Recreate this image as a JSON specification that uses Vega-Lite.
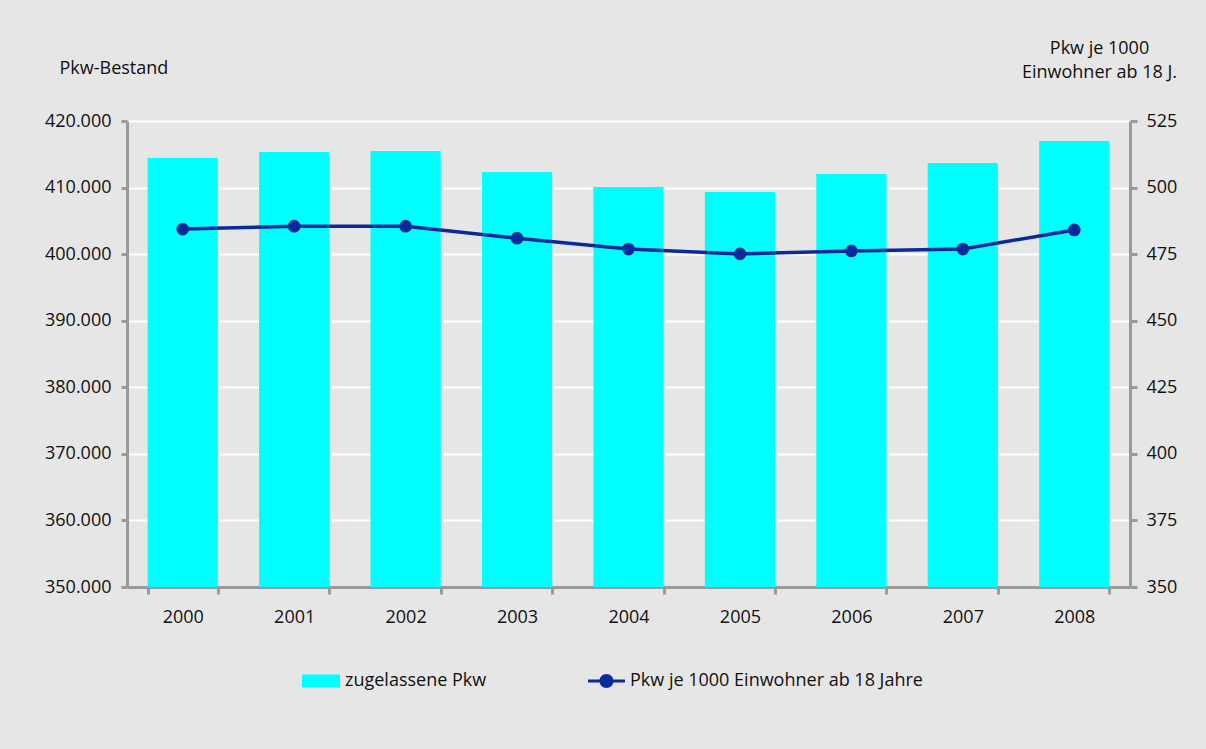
{
  "$schema": "https://vega.github.io/schema/vega-lite/v6.json",
  "width": 1003,
  "height": 466,
  "autosize": {"type": "none"},
  "padding": {"left": 127, "top": 121, "right": 76, "bottom": 162},
  "background": "#e6e6e6",
  "config": {
    "font": "Open Sans",
    "view": {"stroke": null},
    "axis": {
      "labelFont": "Open Sans",
      "titleFont": "Open Sans",
      "labelFontSize": 18,
      "titleFontSize": 18,
      "labelColor": "#111111",
      "titleColor": "#111111",
      "titleFontWeight": "normal",
      "domainColor": "#9a9a9a",
      "domainWidth": 3,
      "tickColor": "#9a9a9a",
      "tickWidth": 3
    },
    "legend": {
      "labelFont": "Open Sans",
      "labelFontSize": 18,
      "labelColor": "#111111",
      "labelLimit": 0,
      "padding": 0
    }
  },
  "data": {
    "values": [
      {"jahr": "2000", "pkw": 414440, "je1000": 484.4},
      {"jahr": "2001", "pkw": 415340, "je1000": 485.5},
      {"jahr": "2002", "pkw": 415490, "je1000": 485.5},
      {"jahr": "2003", "pkw": 412340, "je1000": 481.0},
      {"jahr": "2004", "pkw": 410090, "je1000": 476.9},
      {"jahr": "2005", "pkw": 409330, "je1000": 475.1},
      {"jahr": "2006", "pkw": 412040, "je1000": 476.2},
      {"jahr": "2007", "pkw": 413690, "je1000": 476.9},
      {"jahr": "2008", "pkw": 417000, "je1000": 484.1}
    ]
  },
  "encoding": {
    "x": {
      "field": "jahr",
      "type": "ordinal",
      "scale": {"paddingInner": 0.37, "paddingOuter": 0.185},
      "axis": {
        "title": null,
        "labelAngle": 0,
        "tickBand": "extent",
        "tickSize": 7,
        "labelPadding": 14,
        "grid": false
      }
    }
  },
  "layer": [
    {
      "mark": {"type": "bar", "color": "#00ffff", "clip": true},
      "encoding": {
        "y": {
          "field": "pkw",
          "type": "quantitative",
          "scale": {"domain": [350000, 420000], "zero": false, "nice": false},
          "axis": {
            "values": [350000, 360000, 370000, 380000, 390000, 400000, 410000, 420000],
            "labelExpr": "replace(format(datum.value, ','), ',', '.')",
            "grid": true,
            "gridColor": "#ffffff",
            "gridWidth": 2,
            "tickSize": 6,
            "labelPadding": 10,
            "title": "Pkw-Bestand",
            "titleAngle": 0,
            "titleAlign": "left",
            "titleBaseline": "alphabetic",
            "titleX": -68,
            "titleY": -48
          }
        },
        "fill": {
          "datum": "zugelassene Pkw",
          "scale": {"range": ["#00ffff"]},
          "legend": {
            "title": null,
            "orient": "none",
            "legendX": 175,
            "legendY": 541,
            "symbolType": "M-1,-0.342H1V0.342H-1Z",
            "symbolSize": 1444,
            "symbolStrokeWidth": 0,
            "labelOffset": 5
          }
        }
      }
    },
    {
      "encoding": {
        "y": {
          "field": "je1000",
          "type": "quantitative",
          "scale": {"domain": [350, 525], "zero": false, "nice": false},
          "axis": {
            "orient": "right",
            "values": [350, 375, 400, 425, 450, 475, 500, 525],
            "grid": false,
            "tickSize": 7,
            "labelPadding": 9,
            "title": ["Pkw je 1000", "Einwohner ab 18 J."],
            "titleAngle": 0,
            "titleAlign": "center",
            "titleBaseline": "alphabetic",
            "titleLineHeight": 24,
            "titleX": -31,
            "titleY": -68
          }
        }
      },
      "layer": [
        {
          "mark": {"type": "line", "color": "#0a2a9c", "strokeWidth": 3.5}
        },
        {
          "mark": {"type": "point", "filled": true, "opacity": 1, "size": 160},
          "encoding": {
            "color": {
              "datum": "Pkw je 1000 Einwohner ab 18 Jahre",
              "scale": {"range": ["#0a2a9c"]},
              "legend": {
                "title": null,
                "orient": "none",
                "legendX": 461,
                "legendY": 541.5,
                "symbolType": "M-1,-0.086H1V0.086H-1Z M-0.378,0A0.378,0.378,0,1,1,0.378,0A0.378,0.378,0,1,1,-0.378,0Z",
                "symbolSize": 1369,
                "symbolStrokeWidth": 0,
                "symbolOpacity": 1,
                "labelOffset": 5
              }
            }
          }
        }
      ]
    }
  ],
  "resolve": {"scale": {"y": "independent"}}
}
